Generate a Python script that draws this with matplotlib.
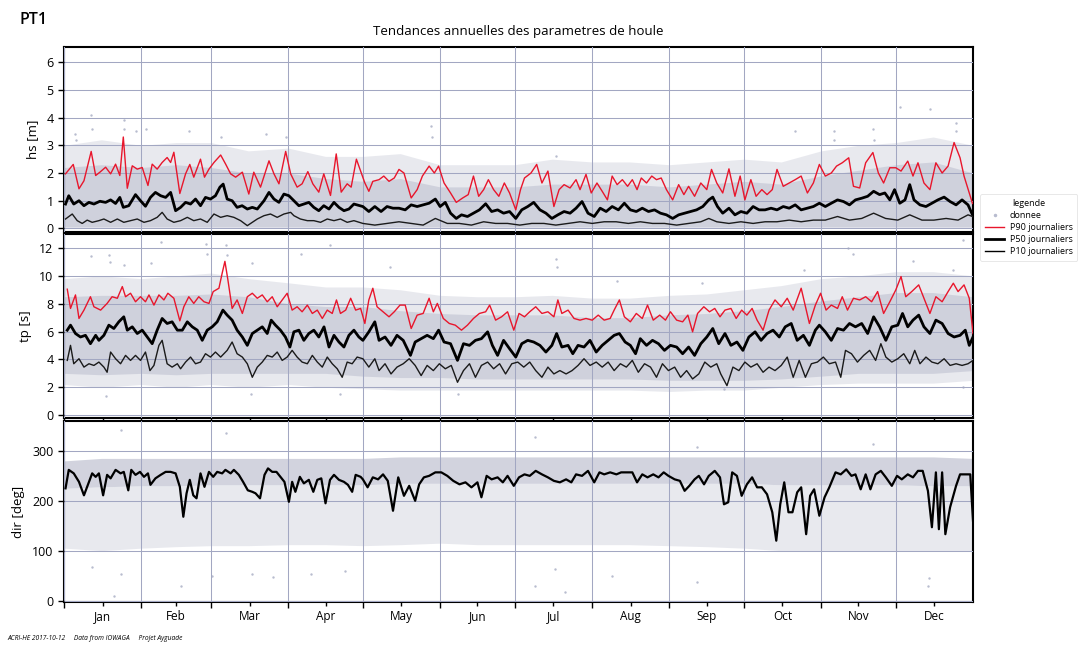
import matplotlib
matplotlib.use('Agg')
import matplotlib.pyplot as plt
from matplotlib.lines import Line2D

plt.rcParams['font.family'] = ['Open Sans', 'DejaVu Sans']

# ---------------- data (day of year, value) ----------------
MONTH_START = [0, 31, 59, 90, 120, 151, 181, 212, 243, 273, 304, 334]
MONTH_MID = [15.5, 45, 74.5, 105, 135.5, 166, 196.5, 227.5, 258, 288.5, 319, 349.5]
MONTH_LABELS = ['Jan', 'Feb', 'Mar', 'Apr', 'May', 'Jun', 'Jul', 'Aug', 'Sep', 'Oct', 'Nov', 'Dec']

HS_P90 = [(0.6,1.97),(3.7,2.31),(6.0,1.43),(8.0,1.72),(10.9,2.78),(12.7,1.91),(14.4,2.03),(16.7,2.21),(18.7,1.97),(20.7,2.32),
          (22.4,1.91),(23.8,3.30),(25.4,1.45),(27.4,2.26),(29.4,2.14),(31.4,2.20),(33.7,1.55),(35.4,2.32),(37.4,2.14),(39.4,2.38),
          (41.4,2.56),(42.8,2.38),(44.1,2.75),(46.5,1.26),(48.8,1.97),(50.5,2.31),(52.1,1.85),(54.8,2.50),(56.4,1.85),(58.2,2.14),
          (60.2,2.38),(62.9,2.65),(64.9,2.32),(66.9,1.97),(68.9,1.85),(71.6,2.03),(74.2,1.24),(76.2,2.03),(78.9,1.49),(82.3,2.44),
          (84.3,1.97),(86.3,1.61),(89.0,2.78),(91.0,1.97),(93.6,1.49),(95.6,1.61),(97.9,2.05),(99.9,1.61),(102.3,1.31),(104.3,1.97),
          (107.0,1.19),(109.3,2.69),(111.3,1.31),(113.7,1.61),(115.3,1.49),(117.4,2.50),(120.8,1.64),(122.4,1.34),(124.0,1.70),(126.5,1.76),
          (128.4,1.89),(130.5,1.70),(132.6,1.82),(134.5,2.13),(136.5,2.00),(139.4,1.10),(141.8,1.40),(143.9,1.89),(146.6,2.25),(148.7,2.00),
          (150.4,2.25),(152.6,1.64),(155.2,1.28),(157.5,0.94),(160.1,1.10),(162.3,1.22),(164.4,1.89),(166.5,1.16),(168.5,1.40),(170.4,1.76),
          (172.5,1.40),(174.6,1.16),(176.8,1.64),(178.9,1.28),(181.4,0.67),(183.3,1.40),(184.9,1.82),(187.5,2.00),(189.8,2.31),(191.9,1.64),
          (194.3,2.07),(196.7,0.79),(198.8,1.40),(200.8,1.58),(203.2,1.46),(205.6,1.76),(207.2,1.40),(209.6,1.95),(211.7,1.28),(214.0,1.64),
          (216.1,1.34),(218.2,1.03),(220.1,1.89),(222.1,1.58),(224.2,1.76),(226.3,1.52),(228.2,1.76),(230.1,1.40),(231.8,1.82),(233.9,1.64),
          (236.0,1.89),(237.9,1.76),(239.8,1.82),(241.9,1.40),(244.4,1.03),(246.8,1.58),(248.9,1.22),(250.8,1.52),(253.2,1.16),(255.7,1.64),
          (258.1,1.40),(260.0,2.13),(262.1,1.64),(264.5,1.28),(267.0,2.15),(269.4,1.16),(271.5,1.89),(273.4,1.03),(275.8,1.76),(277.9,1.16),
          (280.2,1.40),(282.3,1.22),(284.4,1.40),(286.3,2.13),(288.8,1.52),(291.2,1.64),(293.6,1.76),(296.0,1.89),(298.5,1.28),(300.9,1.64),
          (303.3,2.31),(305.7,1.89),(308.1,2.00),(310.2,2.25),(312.5,2.37),(315.1,2.55),(317.0,1.52),(319.5,1.46),(321.9,2.37),(324.8,2.74),
          (327.0,2.00),(329.1,1.64),(331.6,2.19),(334.0,2.19),(336.1,2.07),(338.8,2.43),(340.9,1.89),(342.9,2.37),(345.3,1.64),(347.7,1.40),
          (350.1,2.37),(352.6,2.00),(355.0,2.25),(357.4,3.10),(359.8,2.55),(361.4,1.89),(363.9,1.16),(364.8,0.90)]

HS_P50 = [(0.6,0.88),(1.9,1.18),(3.9,0.88),(6.0,1.00),(8.0,0.82),(10.0,0.94),(12.0,0.88),(14.4,0.98),(16.7,0.94),(18.7,1.03),
          (20.7,0.90),(22.4,1.12),(23.8,0.76),(26.0,0.82),(28.7,1.22),(30.7,1.00),(32.7,0.80),(34.7,1.12),(36.7,1.30),(38.8,1.18),
          (40.8,1.12),(42.8,1.30),(44.8,0.64),(46.8,0.76),(48.8,0.94),(50.8,0.88),(52.8,1.06),(54.8,0.82),(56.8,1.12),(58.8,1.06),
          (60.8,1.18),(62.6,1.49),(63.9,1.60),(65.5,1.06),(67.5,1.00),(69.5,0.76),(71.5,0.82),(73.6,0.70),(75.6,0.76),(77.6,0.70),
          (80.3,1.00),(82.3,1.30),(84.3,1.06),(86.3,0.94),(88.3,1.24),(90.3,1.18),(92.3,1.00),(94.3,0.82),(96.3,0.88),(98.3,0.94),
          (100.3,0.76),(102.3,0.64),(104.3,0.82),(106.4,0.70),(108.4,0.94),(110.4,0.76),(112.4,0.64),(114.4,0.70),(116.4,0.88),(120.0,0.79),
          (122.4,0.61),(124.8,0.79),(127.3,0.61),(129.7,0.79),(132.1,0.73),(134.5,0.73),(137.0,0.67),(139.4,0.85),(141.8,0.79),(144.2,0.85),
          (146.6,0.91),(149.1,1.06),(151.0,0.79),(153.1,0.94),(155.2,0.55),(157.5,0.36),(159.6,0.49),(162.0,0.43),(164.4,0.55),(166.8,0.67),
          (169.3,0.89),(171.7,0.61),(174.1,0.67),(176.5,0.55),(178.9,0.61),(181.4,0.36),(183.8,0.67),(186.2,0.79),(188.6,0.94),(191.1,0.67),
          (193.5,0.55),(195.9,0.36),(198.3,0.49),(200.8,0.61),(203.2,0.55),(205.6,0.73),(208.0,0.97),(210.4,0.55),(212.9,0.43),(215.3,0.73),
          (217.7,0.61),(220.1,0.79),(222.6,0.67),(225.0,0.91),(227.4,0.67),(229.8,0.61),(232.2,0.73),(234.7,0.61),(237.1,0.67),(239.5,0.55),
          (241.9,0.49),(244.4,0.36),(246.8,0.49),(249.2,0.55),(251.6,0.61),(254.0,0.67),(256.5,0.79),(258.9,1.03),(260.5,1.13),(262.4,0.79),
          (264.5,0.55),(267.0,0.73),(269.4,0.49),(271.8,0.61),(274.2,0.55),(276.7,0.79),(279.1,0.67),(281.5,0.67),(283.9,0.73),(286.3,0.67),
          (288.8,0.79),(291.2,0.73),(293.6,0.85),(296.0,0.67),(298.5,0.73),(300.9,0.79),(303.3,0.91),(305.7,0.79),(308.1,0.91),(310.6,1.03),
          (313.0,0.97),(315.4,0.85),(317.8,1.03),(320.3,1.09),(322.7,1.16),(325.1,1.34),(327.5,1.22),(329.6,1.28),(331.6,1.03),(333.5,1.40),
          (335.6,0.91),(337.7,1.03),(339.6,1.58),(341.3,1.03),(343.7,0.85),(346.1,0.79),(348.5,0.91),(350.9,1.03),(353.4,1.13),(355.8,0.97),
          (358.2,0.85),(360.6,1.03),(363.0,0.85),(364.8,0.49)]

HS_P10 = [(0.6,0.34),(3.3,0.52),(5.3,0.28),(7.3,0.18),(9.3,0.30),(11.3,0.22),(14.0,0.28),(16.0,0.34),(18.7,0.22),(21.4,0.34),
          (24.0,0.22),(26.7,0.28),(29.4,0.34),(32.1,0.22),(34.7,0.28),(37.4,0.40),(39.4,0.58),(41.4,0.34),(44.1,0.22),(46.8,0.28),
          (49.5,0.40),(52.1,0.28),(54.8,0.34),(57.5,0.22),(60.2,0.52),(62.9,0.40),(65.5,0.46),(68.2,0.40),(70.9,0.28),(73.6,0.10),
          (75.6,0.22),(77.6,0.34),(80.3,0.46),(82.9,0.52),(85.6,0.40),(88.3,0.52),(91.0,0.58),(92.3,0.46),(94.9,0.34),(97.7,0.28),
          (100.3,0.28),(103.0,0.22),(105.7,0.34),(108.4,0.28),(111.0,0.34),(113.7,0.22),(116.4,0.28),(120.0,0.18),(124.8,0.12),(129.7,0.18),
          (134.5,0.24),(139.4,0.18),(144.2,0.12),(149.1,0.36),(153.9,0.18),(158.7,0.18),(163.6,0.12),(168.5,0.24),(173.3,0.18),(178.1,0.18),
          (183.0,0.12),(187.8,0.18),(192.7,0.18),(197.5,0.12),(202.4,0.18),(207.2,0.24),(212.1,0.18),(216.9,0.24),(221.7,0.24),(226.6,0.18),
          (231.4,0.24),(236.3,0.18),(241.1,0.18),(246.0,0.12),(250.8,0.18),(255.7,0.24),(258.9,0.36),(262.1,0.24),(267.0,0.18),(271.8,0.24),
          (276.7,0.18),(281.5,0.24),(286.3,0.24),(291.2,0.30),(296.0,0.24),(300.9,0.30),(305.7,0.30),(310.6,0.43),(315.4,0.30),(320.3,0.36),
          (325.1,0.55),(329.9,0.36),(334.8,0.30),(339.6,0.49),(344.5,0.30),(349.3,0.30),(354.2,0.36),(359.0,0.30),(363.0,0.49),(364.8,0.43)]

TP_P90 = [(1.3,9.04),(2.6,7.66),(4.6,8.63),(6.0,6.94),(8.0,7.54),(10.6,8.50),(12.0,7.78),(14.7,7.54),(17.3,8.02),(19.3,8.50),
          (21.4,8.39),(23.4,9.23),(24.7,8.50),(26.7,8.75),(28.7,8.14),(30.7,8.50),(32.7,8.14),(34.1,8.63),(36.1,7.90),(38.1,8.63),
          (40.1,8.27),(41.7,8.75),(44.1,8.39),(46.5,6.77),(48.1,7.78),(50.1,8.50),(52.1,8.02),(54.1,8.50),(56.2,8.14),(58.2,8.02),
          (59.9,8.87),(62.2,9.11),(63.5,10.19),(64.6,11.04),(65.8,9.71),(67.5,7.66),(69.5,8.27),(71.6,7.30),(73.6,8.50),(75.6,8.75),
          (77.6,8.39),(79.6,8.63),(81.6,8.14),(83.6,8.50),(85.6,7.78),(87.6,8.27),(89.6,8.75),(91.6,7.54),(93.6,7.78),(95.6,7.42),
          (97.7,7.90),(99.7,7.30),(101.7,7.54),(103.7,6.94),(105.7,7.54),(107.7,7.30),(109.4,8.27),(111.0,7.30),(113.1,7.54),(115.1,8.39),
          (117.1,7.54),(119.1,7.66),(120.8,6.58),(122.4,8.27),(124.0,9.11),(125.7,7.78),(128.1,7.42),(130.5,7.06),(132.6,7.42),(134.9,7.90),
          (137.0,7.90),(139.4,6.22),(141.8,7.18),(144.2,7.30),(146.6,8.39),(148.3,7.42),(149.9,8.02),(152.3,6.94),(154.7,6.58),(157.1,6.46),
          (159.6,6.10),(162.0,6.46),(164.4,6.94),(166.8,7.30),(169.3,7.42),(170.9,7.90),(173.3,6.82),(175.7,7.06),(178.1,7.42),(180.6,6.10),
          (182.7,7.30),(184.9,7.06),(187.0,7.42),(189.4,7.78),(191.9,7.30),(194.3,7.42),(196.7,7.06),(198.3,8.27),(199.9,7.30),(202.4,7.54),
          (204.8,6.94),(207.2,6.82),(209.6,6.94),(212.1,6.82),(214.5,7.18),(216.9,6.82),(219.3,6.94),(220.9,7.54),(223.0,8.27),(225.0,7.06),
          (227.4,6.70),(229.8,7.30),(232.2,6.94),(234.3,7.90),(236.6,6.82),(239.2,7.18),(241.5,6.82),(243.5,7.42),(246.0,6.82),(248.4,6.70),
          (250.5,7.18),(252.4,5.98),(254.4,7.30),(256.9,7.78),(259.2,7.42),(261.3,7.66),(263.4,7.06),(265.4,7.54),(267.8,7.66),(269.9,6.94),
          (272.1,7.54),(274.2,7.18),(276.3,7.66),(278.3,6.82),(280.7,6.10),(283.1,7.54),(285.5,8.27),(288.0,7.78),(290.4,8.39),(292.8,7.54),
          (296.0,9.11),(299.3,6.58),(301.7,7.90),(303.8,8.75),(306.0,7.54),(308.1,7.90),(310.6,7.66),(312.5,8.50),(314.6,7.54),(317.0,8.39),
          (319.5,8.27),(321.9,8.50),(324.3,8.14),(326.7,8.87),(329.1,7.30),(331.6,8.14),(334.0,8.99),(336.1,9.95),(338.0,8.50),(340.4,8.87),
          (343.2,9.35),(345.3,8.39),(347.7,7.30),(350.1,8.50),(352.6,8.14),(355.0,8.87),(357.1,9.47),(359.0,8.87),(361.4,9.35),(363.5,8.39),
          (365.0,5.86)]

TP_P50 = [(1.3,6.10),(2.6,6.46),(4.6,5.86),(6.6,5.61),(8.6,5.73),(10.6,5.13),(12.7,5.73),(14.0,5.37),(16.0,5.73),(18.0,6.46),
          (20.0,6.22),(22.0,6.70),(24.0,7.06),(25.4,6.10),(27.4,6.34),(29.4,5.86),(31.4,6.10),(33.4,5.61),(35.4,5.13),(37.4,6.10),
          (39.4,6.94),(41.4,6.58),(43.4,6.70),(45.5,6.10),(47.5,6.10),(49.5,6.70),(51.5,6.34),(53.5,6.10),(55.5,5.37),(57.5,6.10),
          (59.5,6.34),(61.5,6.70),(63.8,7.54),(65.5,7.18),(67.5,6.82),(69.5,6.10),(71.6,5.61),(73.6,5.01),(75.6,5.86),(77.6,6.10),
          (79.6,6.34),(81.6,5.86),(83.2,6.82),(84.9,6.46),(86.9,6.10),(88.9,5.61),(90.7,4.89),(92.3,5.98),(94.3,6.10),(96.3,5.37),
          (98.3,5.86),(100.3,6.10),(102.3,5.61),(104.4,6.34),(106.4,4.89),(108.4,5.73),(110.4,5.25),(112.4,4.89),(114.4,5.73),(116.4,6.10),
          (118.4,5.61),(120.0,5.37),(122.4,5.98),(124.8,6.70),(126.5,5.37),(128.9,5.61),(131.3,5.01),(133.7,5.73),(136.2,5.37),(139.1,4.29),
          (141.0,5.25),(143.4,5.49),(145.8,5.73),(148.3,5.49),(150.4,6.10),(152.6,5.25),(155.2,5.13),(158.0,3.93),(160.4,5.13),(162.8,5.01),
          (165.2,5.37),(167.6,5.49),(170.1,5.98),(172.0,5.01),(174.1,4.29),(176.5,5.37),(178.9,4.77),(181.4,4.17),(183.8,5.13),(186.2,5.37),
          (188.6,5.25),(191.1,5.01),(193.5,4.53),(195.9,5.01),(197.8,5.86),(199.9,4.89),(202.4,5.01),(204.3,4.41),(206.4,5.01),(208.8,4.89),
          (211.2,5.37),(213.7,4.53),(216.1,5.01),(218.5,5.37),(220.9,5.73),(223.0,5.86),(225.3,5.25),(227.4,5.01),(229.5,4.41),(231.4,5.49),
          (233.9,5.01),(236.3,5.37),(238.7,5.13),(241.1,4.65),(243.5,5.01),(246.0,4.89),(248.4,4.41),(250.8,4.89),(253.2,4.29),(255.7,5.13),
          (258.1,5.61),(260.5,6.22),(262.9,5.13),(265.4,5.86),(267.8,5.01),(270.2,5.25),(272.6,4.65),(275.0,5.61),(277.5,5.98),(279.9,5.37),
          (282.3,5.86),(284.7,6.10),(287.2,5.61),(289.6,6.34),(292.0,6.58),(294.4,5.37),(296.9,5.73),(299.3,5.01),(301.7,6.10),(303.3,6.46),
          (305.7,5.98),(308.1,5.37),(310.6,6.22),(313.0,6.10),(315.4,6.58),(317.8,6.34),(320.3,6.58),(322.7,5.86),(325.1,7.06),(327.5,6.34),
          (330.0,5.37),(332.4,6.34),(334.8,6.46),(336.7,7.30),(338.8,6.34),(340.9,6.82),(343.2,7.18),(345.3,6.34),(347.7,5.86),(350.1,6.82),
          (352.6,6.58),(355.0,5.86),(357.4,5.61),(359.8,5.73),(361.9,6.10),(363.5,5.01),(365.0,5.61)]

TP_P10 = [(1.3,3.93),(2.6,5.01),(3.9,3.69),(6.0,4.05),(8.0,3.45),(10.0,3.69),(12.0,3.57),(14.0,3.81),(16.0,3.45),(17.3,3.08),
          (18.7,4.53),(20.7,4.05),(22.7,3.69),(24.7,4.29),(26.7,3.93),(28.7,4.29),(30.7,3.93),(32.7,4.53),(34.5,3.20),(36.1,3.57),
          (38.1,5.01),(39.4,5.37),(41.4,3.69),(43.4,3.45),(45.5,3.69),(46.8,3.33),(48.8,3.81),(50.8,4.17),(52.8,3.69),(54.8,3.81),
          (56.8,4.41),(58.8,4.17),(60.8,4.53),(62.9,4.17),(65.5,4.65),(67.5,5.25),(69.5,4.41),(71.6,4.17),(73.6,3.69),(75.6,2.72),
          (77.6,3.45),(79.6,3.81),(81.6,4.29),(83.6,4.17),(85.6,4.53),(87.6,3.93),(89.6,4.17),(91.6,4.65),(93.6,4.17),(95.6,3.81),
          (97.7,3.69),(99.7,4.29),(101.7,3.81),(103.7,3.45),(105.7,4.17),(107.7,3.69),(109.7,3.33),(111.7,2.72),(113.7,3.81),(115.7,3.69),
          (117.7,4.17),(120.0,4.05),(122.4,3.45),(124.8,4.05),(126.5,3.20),(128.9,3.69),(131.3,2.96),(133.7,3.45),(136.2,3.69),(138.6,4.05),
          (141.0,3.57),(143.4,2.84),(145.8,3.57),(148.3,3.20),(150.7,3.69),(153.1,3.33),(155.5,3.57),(158.0,2.36),(160.4,3.20),(162.8,3.69),
          (165.2,2.72),(167.6,3.57),(170.1,3.81),(172.5,3.33),(174.9,3.69),(177.3,2.96),(179.8,3.69),(182.2,3.81),(184.6,3.45),(187.0,3.81),
          (189.4,3.20),(191.9,2.72),(194.3,3.45),(196.7,2.96),(199.1,3.20),(201.6,2.96),(204.0,3.20),(206.4,3.57),(208.8,4.05),(211.2,3.57),
          (213.7,3.81),(216.1,3.45),(218.5,3.81),(220.9,3.20),(223.4,3.69),(225.8,3.45),(228.2,3.93),(230.6,3.08),(233.1,3.69),(235.5,3.45),
          (237.9,2.72),(240.3,3.69),(242.7,3.20),(245.2,3.45),(247.6,2.72),(250.0,3.20),(252.4,2.60),(254.9,2.96),(257.3,3.81),(259.7,3.45),
          (262.1,3.69),(263.7,2.96),(266.2,2.12),(268.6,3.45),(271.0,3.20),(273.4,3.81),(275.8,3.45),(278.3,3.69),(280.7,3.08),(283.1,3.45),
          (285.5,3.20),(288.0,3.57),(290.4,4.17),(292.8,2.72),(295.2,3.93),(297.7,2.72),(300.1,3.69),(302.5,3.81),(304.9,4.17),(307.3,3.69),
          (309.8,3.81),(311.9,2.72),(313.8,4.65),(316.2,4.41),(318.6,3.81),(321.1,4.29),(323.5,4.65),(325.9,3.93),(328.0,5.13),(330.0,4.17),
          (332.4,3.81),(334.8,4.05),(337.2,4.41),(339.6,3.69),(341.6,4.65),(343.7,3.69),(346.1,4.17),(348.5,3.81),(350.9,3.69),(353.4,4.05),
          (355.8,3.57),(358.2,3.69),(360.6,3.57),(363.0,3.69),(365.0,3.93)]

DIR_P50 = [(0.6,225),(1.9,262),(3.9,255),(6.0,238),(8.0,211),(10.0,238),(11.3,255),(12.7,248),(14.0,255),(15.7,211),
           (17.3,252),(18.7,245),(20.7,262),(22.7,255),(24.0,258),(25.8,221),(27.0,262),(28.7,252),(30.5,258),(32.1,248),
           (33.7,255),(34.7,232),(36.7,245),(38.8,252),(40.8,258),(42.8,258),(44.8,255),(46.5,228),(47.9,168),(49.2,215),
           (50.5,242),(51.9,211),(53.2,205),(54.8,255),(56.4,228),(58.2,258),(59.9,248),(61.5,258),(63.5,255),(64.8,262),
           (66.9,255),(68.2,262),(70.2,252),(71.9,238),(73.8,221),(75.6,218),(76.9,215),(78.7,205),(80.5,252),(81.9,265),
           (83.6,258),(85.3,258),(86.9,248),(88.5,238),(90.3,198),(91.6,238),(92.9,218),(94.7,248),(96.3,235),(98.3,242),
           (100.1,218),(101.7,242),(103.3,245),(105.0,195),(106.8,242),(108.4,252),(110.4,242),(112.4,238),(114.0,232),(115.7,218),
           (117.1,252),(119.1,248),(120.0,243),(121.9,227),(124.0,247),(126.1,243),(128.1,253),(130.0,240),(132.1,180),(134.2,247),
           (136.5,210),(138.6,230),(141.0,200),(142.6,233),(144.5,247),(146.6,250),(149.1,257),(151.5,257),(153.9,250),(156.3,240),
           (158.8,233),(161.2,237),(163.6,227),(166.0,237),(167.6,207),(169.7,250),(171.7,243),(174.1,247),(176.2,237),(178.1,250),
           (180.6,230),(182.7,247),(184.9,253),(187.0,250),(189.4,260),(191.9,253),(194.3,247),(196.7,240),(199.1,237),(201.6,243),
           (203.7,237),(205.6,253),(208.0,250),(210.4,260),(212.9,237),(215.0,257),(216.9,253),(219.3,257),(221.8,253),(223.7,257),
           (226.3,257),(228.2,257),(230.1,237),(232.2,253),(234.3,247),(236.6,253),(238.7,247),(240.8,257),(242.7,250),(245.2,243),
           (247.3,240),(249.2,220),(251.1,230),(253.2,243),(254.9,250),(257.0,233),(258.9,250),(261.3,260),(263.4,247),(265.0,193),
           (266.7,197),(268.3,257),(270.2,250),(272.1,210),(274.2,233),(276.3,247),(278.3,227),(280.2,227),(282.3,213),(284.4,177),
           (286.0,120),(287.6,193),(289.2,237),(290.9,177),(292.5,177),(294.4,217),(296.0,227),(298.0,133),(299.6,210),(301.2,223),
           (303.3,170),(305.4,207),(307.3,227),(309.8,257),(311.9,253),(314.1,263),(316.2,250),(317.8,253),(319.9,223),(321.9,253),
           (323.8,223),(325.9,253),(328.0,260),(330.0,247),(332.4,230),(334.5,250),(336.4,243),(338.8,253),(340.9,247),(342.9,260),
           (344.8,260),(346.9,220),(348.5,147),(350.1,257),(351.3,143),(352.6,257),(353.9,133),(355.8,187),(358.2,230),(359.8,253),
           (362.2,253),(363.9,253),(365.0,160)]

# envelope of the raw "donnee" cloud, sampled every half month
CLOUD_DAYS = [0, 15, 31, 45, 59, 74, 90, 105, 120, 135, 151, 166, 181, 196, 212, 227, 243, 258, 273, 288, 304, 319, 334, 349, 365]
HS_DENSE_LO = 0.05
HS_DENSE_HI = [2.2, 2.3, 2.2, 2.3, 2.2, 2.0, 2.0, 1.8, 1.7, 1.8, 1.5, 1.5, 1.5, 1.6, 1.6, 1.6, 1.5, 1.6, 1.7, 1.6, 1.9, 2.1, 2.3, 2.4, 2.0]
HS_SPARSE_HI = [3.0, 3.2, 3.0, 3.1, 3.1, 2.8, 2.9, 2.6, 2.6, 2.7, 2.3, 2.3, 2.3, 2.5, 2.4, 2.4, 2.3, 2.4, 2.5, 2.4, 2.8, 3.0, 3.1, 3.3, 3.0]
TP_DENSE_LO = [3.0, 2.9, 3.0, 2.9, 3.0, 3.0, 3.0, 3.0, 2.8, 2.7, 2.7, 2.6, 2.6, 2.6, 2.6, 2.6, 2.5, 2.5, 2.5, 2.6, 2.8, 3.0, 3.0, 3.0, 3.2]
TP_DENSE_HI = [8.5, 8.6, 8.6, 8.6, 8.7, 8.5, 8.0, 7.8, 7.8, 7.5, 7.3, 7.2, 7.2, 7.2, 7.0, 7.0, 7.2, 7.3, 7.5, 7.8, 8.2, 8.5, 8.8, 8.8, 8.5]
TP_SPARSE_LO = [2.2, 2.0, 2.2, 2.0, 2.2, 2.0, 2.2, 2.0, 1.9, 1.8, 1.8, 1.8, 1.8, 1.8, 1.8, 1.8, 1.7, 1.8, 1.8, 2.0, 2.2, 2.3, 2.3, 2.3, 2.5]
TP_SPARSE_HI = [9.8, 10.0, 9.8, 10.0, 10.2, 9.8, 9.5, 9.2, 9.2, 9.0, 8.6, 8.5, 8.5, 8.6, 8.4, 8.4, 8.6, 8.7, 9.0, 9.3, 9.8, 10.0, 10.3, 10.3, 10.0]
DIR_DENSE_LO = [225, 228, 230, 230, 232, 232, 232, 232, 232, 235, 235, 235, 235, 235, 235, 235, 235, 235, 235, 232, 232, 232, 232, 230, 230]
DIR_DENSE_HI = [280, 285, 285, 285, 285, 285, 285, 285, 285, 288, 288, 288, 288, 288, 288, 288, 288, 288, 288, 288, 288, 288, 288, 288, 285]
DIR_SPARSE_LO = [105, 100, 105, 108, 110, 110, 112, 112, 110, 112, 115, 112, 112, 112, 112, 112, 110, 108, 105, 100, 100, 100, 100, 100, 100]

# isolated raw points outside the main cloud
HS_OUTLIERS = [(4.6,3.4),(4.8,3.2),(11.0,4.1),(11.2,3.6),(24.0,3.9),(24.2,3.6),(29.0,3.5),(33.0,3.6),(50.0,3.5),(63.0,3.3),
               (81.0,3.4),(89.0,3.3),(147.5,3.7),(147.8,3.3),(197.5,2.6),(293.6,3.5),(309.0,3.5),(309.3,3.2),(325.0,3.6),(325.3,3.2),
               (335.6,4.4),(347.7,4.3),(358.0,3.8),(358.3,3.5)]
TP_OUTLIERS = [(11.0,11.4),(18.0,11.5),(18.4,11.0),(24.0,10.8),(35.0,10.9),(39.0,12.4),(57.0,12.3),(57.3,11.6),(65.0,12.2),(65.3,11.5),
               (75.6,10.9),(95.0,11.6),(107.0,12.2),(131.0,10.6),(197.5,11.2),(197.8,10.6),(222.0,9.6),(256.0,9.5),(297.0,10.4),(315.0,12.0),
               (317.0,11.6),(341.0,11.1),(357.0,10.4),(361.0,12.6),(17.0,1.4),(75.0,1.5),(111.0,1.5),(158.0,1.5),(265.0,1.9),(361.0,2.0)]
DIR_OUTLIERS = [(22.7,342),(65.0,336),(189.0,327),(254.0,307),(325.0,313),(11.3,67),(20.0,10),(22.7,54),(46.8,30),(59.5,50),
                (75.6,54),(84.0,47),(99.0,54),(113.0,60),(189.0,30),(197.0,63),(201.0,17),(220.0,50),(254.0,37),(347.0,30),(347.5,45)]

# ---------------- styling ----------------
CLOUD = '#cdcfdb'
DOT = '#b8bccf'
GRID = '#a2a7c2'
RED = '#e8162c'

fig = plt.figure(figsize=(10.78, 6.49), dpi=100)

def unzip(pairs):
    return [p[0] for p in pairs], [p[1] for p in pairs]

def make_panel(rect, ylim, yticks, ylabel, dense, sparse, outliers, lines, show_x):
    ax = fig.add_axes(rect)
    ax.fill_between(CLOUD_DAYS, sparse[0], sparse[1], color=CLOUD, alpha=0.45, lw=0, zorder=1)
    ax.fill_between(CLOUD_DAYS, dense[0], dense[1], color=CLOUD, alpha=0.9, lw=0, zorder=1.1)
    ox, oy = unzip(outliers)
    ax.scatter(ox, oy, s=3, color=DOT, lw=0, zorder=1.2)
    for pairs, color, lw in lines:
        x, y = unzip(pairs)
        ax.plot(x, y, color=color, lw=lw, zorder=3)
    ax.set_xlim(0, 365)
    ax.set_ylim(*ylim)
    ax.set_yticks(yticks)
    ax.set_xticks(MONTH_START)
    ax.set_xticklabels([])
    ax.set_xticks(MONTH_MID, minor=True)
    if show_x:
        ax.set_xticklabels(MONTH_LABELS, minor=True, fontsize=8.5)
    else:
        ax.set_xticklabels([], minor=True)
    ax.grid(True, which='major', color=GRID, lw=0.75)
    ax.set_axisbelow(False)
    for g in ax.get_xgridlines() + ax.get_ygridlines():
        g.set_zorder(2)
    ax.tick_params(axis='x', which='major', length=4, width=1)
    ax.tick_params(axis='x', which='minor', length=3, width=1, pad=3)
    ax.tick_params(axis='y', labelsize=9, length=4, width=1)
    for s in ax.spines.values():
        s.set_linewidth(1.5)
    ax.set_ylabel(ylabel, fontsize=9.5, labelpad=5)
    return ax

L = 0.0594
W = 0.8432
ax1 = make_panel([L, 0.6425, W, 0.2851], (-0.13, 6.55), [0, 1, 2, 3, 4, 5, 6], 'hs [m]',
                 (HS_DENSE_LO, HS_DENSE_HI), (HS_DENSE_LO, HS_SPARSE_HI), HS_OUTLIERS,
                 [(HS_P90, RED, 1.0), (HS_P50, 'black', 2.0), (HS_P10, '#1a1a1a', 1.0)], False)
ax2 = make_panel([L, 0.356, W, 0.2834], (-0.2, 13.0), [0, 2, 4, 6, 8, 10, 12], 'tp [s]',
                 (TP_DENSE_LO, TP_DENSE_HI), (TP_SPARSE_LO, TP_SPARSE_HI), TP_OUTLIERS,
                 [(TP_P90, RED, 1.0), (TP_P50, 'black', 2.0), (TP_P10, '#1a1a1a', 1.0)], False)
ax3 = make_panel([L, 0.0724, W, 0.2789], (-3, 360), [0, 100, 200, 300], 'dir [deg]',
                 (DIR_DENSE_LO, DIR_DENSE_HI), (DIR_SPARSE_LO, DIR_DENSE_LO), DIR_OUTLIERS,
                 [(DIR_P50, 'black', 1.6)], True)

handles = [Line2D([], [], marker='.', ls='', color=DOT, markersize=3),
           Line2D([], [], color=RED, lw=1.0),
           Line2D([], [], color='black', lw=2.0),
           Line2D([], [], color='black', lw=1.0)]
leg = fig.legend(handles, ['donnee', 'P90 journaliers', 'P50 journaliers', 'P10 journaliers'],
                 title='legende', loc='upper left', bbox_to_anchor=(0.905, 0.708),
                 fontsize=6.5, title_fontsize=6.5, frameon=True, handlelength=2.2,
                 borderpad=0.5, labelspacing=0.35, handletextpad=0.6)
leg.get_frame().set_edgecolor('#dddddd')
leg.get_frame().set_linewidth(0.6)

fig.text(0.481, 0.951, 'Tendances annuelles des parametres de houle', ha='center', va='center', fontsize=9.5)
fig.text(0.018, 0.969, 'PT1', ha='left', va='center', fontsize=11.5, weight='semibold')
fig.text(0.007, 0.011, 'ACRI-HE 2017-10-12     Data from IOWAGA     Projet Ayguade',
         ha='left', va='bottom', fontsize=4.8, style='italic')

fig.savefig('out.png', dpi=100)
